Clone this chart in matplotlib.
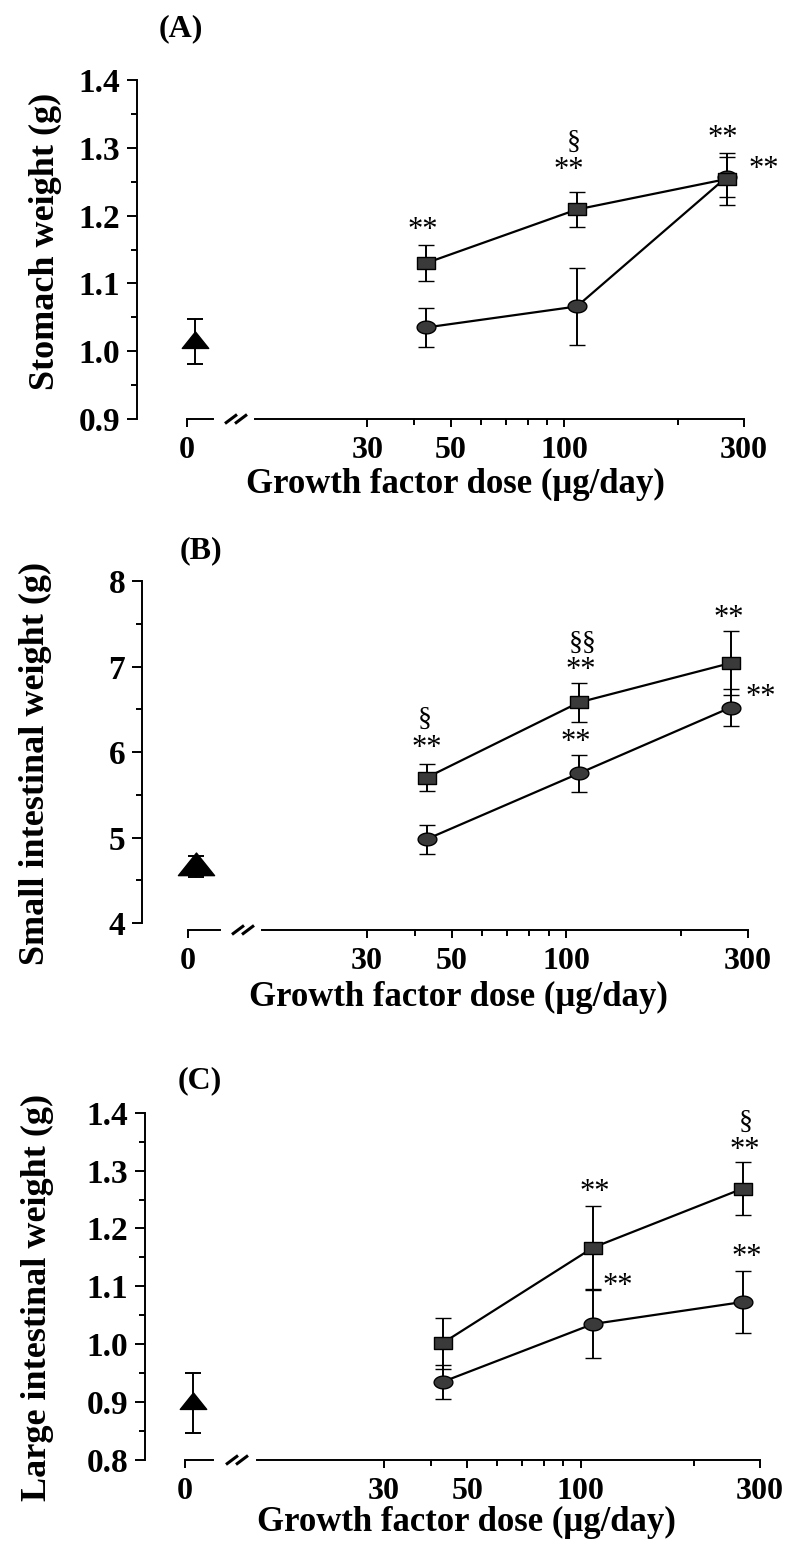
import numpy as np
import matplotlib
matplotlib.use("Agg")
import matplotlib.pyplot as plt
from matplotlib.path import Path
from matplotlib.lines import Line2D
from matplotlib.ticker import FixedLocator, NullFormatter, FormatStrFormatter
from matplotlib.transforms import ScaledTranslation

# ---------------------------------------------------------------- data
doses = [43, 108, 270]                 # growth factor dose (ug/day)
dose_ticks = [30, 50, 100, 300]
dose_minor = [40, 60, 70, 80, 90, 200]
control_dose = [0]

# (A) stomach weight (g)
stomach_sq = [1.130, 1.209, 1.254]
stomach_sq_sem = [0.026, 0.026, 0.038]
stomach_ci = [1.035, 1.066, 1.257]
stomach_ci_sem = [0.029, 0.057, 0.030]
stomach_ctrl = [1.014]
stomach_ctrl_sem = [0.033]

# (B) small intestinal weight (g)
small_sq = [5.70, 6.58, 7.04]
small_sq_sem = [0.16, 0.23, 0.37]
small_ci = [4.98, 5.75, 6.52]
small_ci_sem = [0.17, 0.22, 0.22]
small_ctrl = [4.66]
small_ctrl_sem = [0.12]

# (C) large intestinal weight (g)
large_sq = [1.002, 1.167, 1.269]
large_sq_sem = [0.044, 0.072, 0.045]
large_ci = [0.935, 1.035, 1.073]
large_ci_sem = [0.029, 0.059, 0.054]
large_ctrl = [0.898]
large_ctrl_sem = [0.052]

# significance marks: (series, point index, text, anchor, dx px, dy px)
stomach_marks = [("sq", 0, "**", "top", -3, 15),
                 ("sq", 1, "**", "top", -8, 21),
                 ("sq", 1, "\u00a7", "top", -3, 49),
                 ("sq", 2, "**", "top", -4, 15),
                 ("ci", 2, "**", "mid", 37, 7)]
small_marks = [("sq", 0, "**", "top", 0, 15),
               ("sq", 0, "\u00a7", "top", -2, 45),
               ("sq", 1, "**", "top", 2, 12),
               ("sq", 1, "\u00a7\u00a7", "top", 4, 39),
               ("sq", 2, "**", "top", -2, 13),
               ("ci", 1, "**", "top", -3, 12),
               ("ci", 2, "**", "mid", 30, 10)]
large_marks = [("sq", 1, "**", "top", 2, 13),
               ("ci", 1, "**", "top", 25, 3),
               ("sq", 2, "**", "top", 2, 12),
               ("sq", 2, "\u00a7", "top", 3, 40),
               ("ci", 2, "**", "top", 4, 13)]

# ---------------------------------------------------------------- style
W, H = 792, 1543
plt.rcParams["font.family"] = ["Liberation Serif", "DejaVu Serif"]
plt.rcParams["font.weight"] = "bold"

LW = 1.4
FACE = "#3a3a3a"
TICK_FS = 23

rect_marker = Path([(-1, -0.68), (1, -0.68), (1, 0.68), (-1, 0.68), (-1, -0.68)],
                   [Path.MOVETO, Path.LINETO, Path.LINETO, Path.LINETO, Path.CLOSEPOLY])
_t = np.linspace(0, 2 * np.pi, 64)
ellipse_marker = Path(np.column_stack([np.cos(_t), 0.68 * np.sin(_t)]), closed=True)
tri_marker = Path([(-1, -0.45), (1, -0.45), (0, 0.8), (-1, -0.45)],
                  [Path.MOVETO, Path.LINETO, Path.LINETO, Path.CLOSEPOLY])

fig = plt.figure(figsize=(W / 100, H / 100), dpi=100)


def box(x0, x1, y_top, y_bot):
    return [x0 / W, 1 - y_bot / H, (x1 - x0) / W, (y_bot - y_top) / H]


def fxy(x, y):
    return x / W, 1 - y / H


def draw_panel(lay, ylim, ymajor, yminor, yfmt, ylabel,
               sq, sq_sem, ci, ci_sem, ctrl, ctrl_sem, marks):
    y_top, y_bot = lay["y_top"], lay["y_bot"]
    span = lay["zero_x"] - lay["yaxis_x"]

    # left block: y axis plus the short segment holding the zero dose
    ax0 = fig.add_axes(box(lay["yaxis_x"], lay["zero_x"] + span, y_top, y_bot))
    ax0.patch.set_alpha(0)
    ax0.set_xlim(-1, 1)
    ax0.set_ylim(*ylim)
    for s in ("top", "right"):
        ax0.spines[s].set_visible(False)
    ax0.spines["left"].set_linewidth(LW)
    ax0.spines["bottom"].set_linewidth(LW)
    ax0.spines["bottom"].set_bounds(0, (lay["zero_end"] - lay["zero_x"]) / span)
    ax0.spines["bottom"].set_position(("outward", lay["drop"]))
    ax0.yaxis.set_major_locator(FixedLocator(ymajor))
    ax0.yaxis.set_minor_locator(FixedLocator(yminor))
    ax0.yaxis.set_major_formatter(FormatStrFormatter(yfmt))
    ax0.set_xticks(control_dose)
    ax0.set_xticklabels([str(d) for d in control_dose])
    ax0.tick_params(axis="y", which="major", length=7, width=LW, labelsize=24, pad=5)
    ax0.tick_params(axis="y", which="minor", length=4, width=LW)
    ax0.tick_params(axis="x", which="major", length=6, width=LW, labelsize=TICK_FS, pad=6)

    # right block: logarithmic dose axis
    ax1 = fig.add_axes(box(lay["log_x0"], lay["log_x1"], y_top, y_bot))
    ax1.patch.set_alpha(0)
    ax1.set_xscale("log")
    ax1.set_xlim(lay["xmin"], dose_ticks[-1])
    ax1.set_ylim(*ylim)
    for s in ("top", "right", "left"):
        ax1.spines[s].set_visible(False)
    ax1.spines["bottom"].set_linewidth(LW)
    ax1.spines["bottom"].set_position(("outward", lay["drop"]))
    ax1.set_yticks([])
    ax1.xaxis.set_major_locator(FixedLocator(dose_ticks))
    ax1.xaxis.set_major_formatter(FormatStrFormatter("%d"))
    ax1.xaxis.set_minor_locator(FixedLocator(dose_minor))
    ax1.xaxis.set_minor_formatter(NullFormatter())
    ax1.tick_params(axis="x", which="major", length=6, width=LW, labelsize=TICK_FS, pad=6)
    ax1.tick_params(axis="x", which="minor", length=4, width=LW)

    common = dict(color="black", lw=1.6, elinewidth=1.4, capsize=5.5, capthick=1.4,
                  mfc=FACE, mec="black", mew=1.0, clip_on=False)
    ax1.errorbar(doses, ci, yerr=ci_sem, marker=ellipse_marker, ms=13.5, **common)
    ax1.errorbar(doses, sq, yerr=sq_sem, marker=rect_marker, ms=13.5, **common)

    shift = ax0.transData + ScaledTranslation(8 / 100, 0, fig.dpi_scale_trans)
    ax0.errorbar(control_dose, ctrl, yerr=ctrl_sem, marker=tri_marker,
                 ms=lay["tri_ms"], color="black", mfc="black", mec="black",
                 elinewidth=1.4, capsize=5.5, capthick=1.4, ls="none",
                 transform=shift, clip_on=False)

    series = {"sq": (sq, sq_sem), "ci": (ci, ci_sem)}
    for key, i, txt, anchor, dx, dy in marks:
        m, e = series[key]
        yv = m[i] + e[i] if anchor == "top" else m[i]
        size = 22 if "*" in txt else 20
        ax1.annotate(txt, xy=(doses[i], yv), xytext=(dx, dy), textcoords="offset pixels",
                     ha="center", va="center", fontsize=size, fontweight="normal",
                     annotation_clip=False)

    # axis break marks between the two blocks
    y_axis = y_bot + lay["drop"] * 100 / 72
    cx = (lay["zero_end"] + lay["log_x0"]) / 2 + 2
    for off in (-5, 5):
        x0, y0 = fxy(cx + off - 6, y_axis + 4.5)
        x1, y1 = fxy(cx + off + 6, y_axis - 4.5)
        fig.add_artist(Line2D([x0, x1], [y0, y1], color="black", lw=2.2,
                              solid_capstyle="butt"))

    fig.text(*fxy(*lay["label_xy"]), lay["label"], ha="center", va="center", fontsize=23)
    fig.text(*fxy(*lay["ylabel_xy"]), ylabel, ha="center", va="center",
             rotation=90, fontsize=26)
    fig.text(*fxy(*lay["xlabel_xy"]), "Growth factor dose (\u03bcg/day)",
             ha="center", va="center", fontsize=25)


lay_a = dict(label="(A)", label_xy=(181, 29), yaxis_x=137, zero_x=187, zero_end=213,
             log_x0=255, log_x1=744, y_top=80, y_bot=419, xmin=15.1, drop=0,
             ylabel_xy=(45, 241), xlabel_xy=(455, 484), tri_ms=19)
lay_b = dict(label="(B)", label_xy=(201, 551), yaxis_x=142, zero_x=188, zero_end=220,
             log_x0=262, log_x1=748, y_top=581, y_bot=923, xmin=15.9, drop=5,
             ylabel_xy=(35, 763), xlabel_xy=(458, 997), tri_ms=26)
lay_c = dict(label="(C)", label_xy=(200, 1081), yaxis_x=145, zero_x=185, zero_end=213,
             log_x0=257, log_x1=760, y_top=1112.7, y_bot=1460, xmin=13.8, drop=0,
             ylabel_xy=(37, 1297), xlabel_xy=(466, 1522), tri_ms=19)

draw_panel(lay_a, (0.9, 1.4), np.round(np.arange(0.9, 1.41, 0.1), 2),
           np.round(np.arange(0.95, 1.4, 0.1), 2), "%.1f", "Stomach weight (g)",
           stomach_sq, stomach_sq_sem, stomach_ci, stomach_ci_sem,
           stomach_ctrl, stomach_ctrl_sem, stomach_marks)
draw_panel(lay_b, (4, 8), np.arange(4, 9, 1), np.arange(4.5, 8, 1.0), "%d",
           "Small intestinal weight (g)",
           small_sq, small_sq_sem, small_ci, small_ci_sem,
           small_ctrl, small_ctrl_sem, small_marks)
draw_panel(lay_c, (0.8, 1.4), np.round(np.arange(0.8, 1.41, 0.1), 2),
           np.round(np.arange(0.85, 1.4, 0.1), 2), "%.1f", "Large intestinal weight (g)",
           large_sq, large_sq_sem, large_ci, large_ci_sem,
           large_ctrl, large_ctrl_sem, large_marks)

fig.savefig("out.png", dpi=100)
